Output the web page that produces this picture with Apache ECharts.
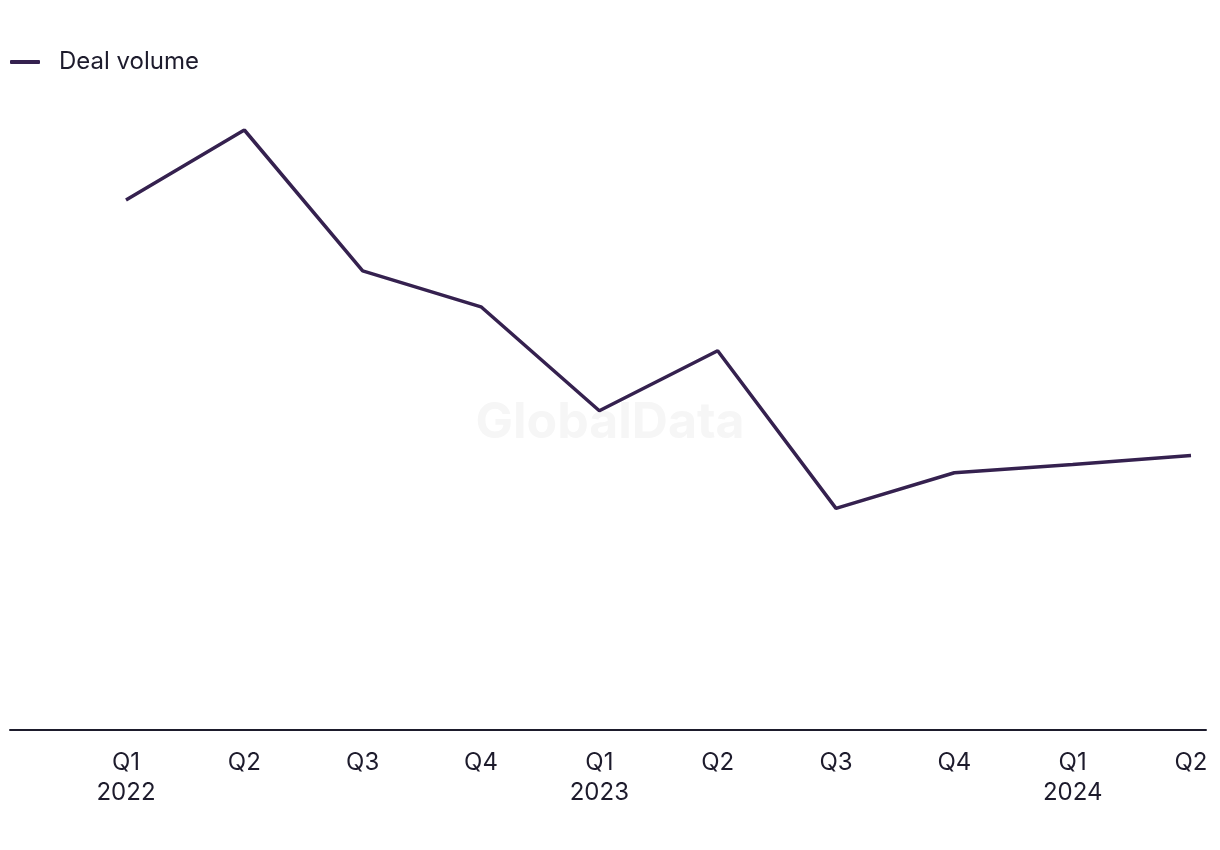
<!DOCTYPE html>
<html>
<head>
<meta charset="utf-8">
<script src="https://cdn.jsdelivr.net/npm/echarts@6/dist/echarts.min.js"></script>
<style>
html,body{margin:0;padding:0;background:#fff;}
#chart{width:1220px;height:850px;}
</style>
</head>
<body>
<div id="chart"></div>
<script>
const quarters = ['Q1','Q2','Q3','Q4','Q1','Q2','Q3','Q4','Q1','Q2'];
const years = ['2022','','','','2023','','','','2024',''];
const dealVolume = [132.5, 150, 114.8, 105.8, 79.8, 94.8, 55.4, 64.3, 66.4, 68.6];
const seriesName = 'Deal volume';

const categories = quarters.map((q, i) => years[i] ? q + '\n' + years[i] : q);
const textColor = '#1d1b2c';
const lineColor = '#35214f';
const font = 'Inter, "Noto Sans", sans-serif';

const chart = echarts.init(document.getElementById('chart'));
chart.setOption({
  backgroundColor: '#fff',
  animation: false,
  graphic: [{
    type: 'text',
    left: 'center',
    top: 398,
    z: 0,
    style: {
      text: 'GlobalData',
      fill: '#f6f6f6',
      font: 'bold 50px Inter, "Noto Sans", sans-serif'
    }
  }],
  legend: {
    left: 10,
    top: 50,
    padding: 0,
    icon: 'roundRect',
    itemWidth: 30,
    itemHeight: 4,
    itemGap: 20,
    textStyle: {
      color: textColor,
      fontFamily: font,
      fontSize: 24,
      padding: [0, 0, 0, 14]
    },
    data: [seriesName]
  },
  grid: [
    { left: 126, right: 29, top: 130, bottom: 120, containLabel: false },
    { left: 10, right: 14, top: 130, bottom: 120, containLabel: false }
  ],
  xAxis: [
    {
      type: 'category',
      gridIndex: 0,
      data: categories,
      boundaryGap: false,
      axisLine: { show: false },
      axisTick: { show: false },
      splitLine: { show: false },
      axisLabel: {
        color: textColor,
        fontFamily: font,
        fontSize: 24,
        lineHeight: 30,
        margin: 18,
        interval: 0
      }
    },
    {
      type: 'value',
      gridIndex: 1,
      min: 0,
      max: 1,
      axisLine: { show: true, onZero: false, lineStyle: { color: textColor, width: 2 } },
      axisTick: { show: false },
      axisLabel: { show: false },
      splitLine: { show: false }
    }
  ],
  yAxis: [
    {
      type: 'value',
      gridIndex: 0,
      min: 0,
      max: 150,
      show: false,
      splitLine: { show: false }
    },
    {
      type: 'value',
      gridIndex: 1,
      min: 0,
      max: 1,
      show: false,
      splitLine: { show: false }
    }
  ],
  series: [{
    name: seriesName,
    type: 'line',
    xAxisIndex: 0,
    yAxisIndex: 0,
    data: dealVolume,
    showSymbol: false,
    symbol: 'none',
    color: lineColor,
    lineStyle: { color: lineColor, width: 3.5 },
    z: 3
  }]
});
</script>
</body>
</html>
